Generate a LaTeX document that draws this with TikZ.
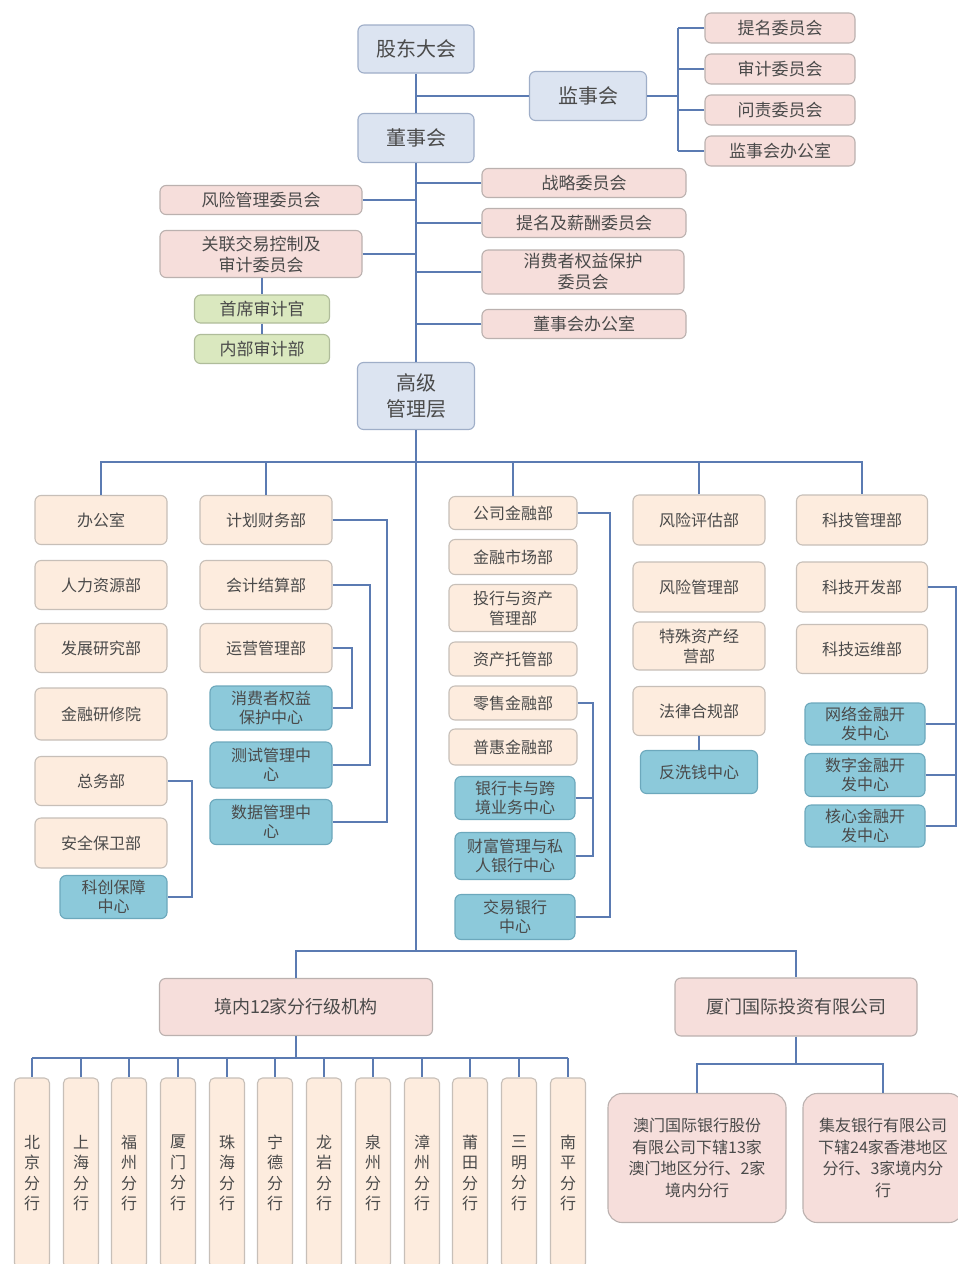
\documentclass[tikz,border=0pt]{standalone}
\usepackage{fontspec}
\setmainfont{Noto Sans CJK SC}
\definecolor{topfill}{HTML}{DCE4F1}
\definecolor{topdraw}{HTML}{9FAEC8}
\definecolor{pinkfill}{HTML}{F6DEDB}
\definecolor{pinkdraw}{HTML}{BBB1AF}
\definecolor{greenfill}{HTML}{DAE8BF}
\definecolor{greendraw}{HTML}{AFBC9A}
\definecolor{deptfill}{HTML}{FDECDE}
\definecolor{deptdraw}{HTML}{C7BFB8}
\definecolor{ctrfill}{HTML}{8CC9DA}
\definecolor{ctrdraw}{HTML}{6CA8BC}
\definecolor{linecol}{HTML}{5B7BB2}
\definecolor{txt}{HTML}{4A4A4A}
\begin{document}
\begin{tikzpicture}[x=1pt,y=-1pt,
  wh/.style 2 args={minimum width=#1,minimum height=#2},
  base/.style={rounded corners=6pt,line width=1.1pt,align=center,inner sep=0pt,text=txt},
  topbox/.style={base,fill=topfill,draw=topdraw,font=\fontsize{20}{26}\selectfont},
  com/.style={base,fill=pinkfill,draw=pinkdraw,font=\fontsize{17}{21}\selectfont},
  grn/.style={base,fill=greenfill,draw=greendraw,font=\fontsize{17}{21}\selectfont},
  dept/.style={base,fill=deptfill,draw=deptdraw,font=\fontsize{16}{20}\selectfont},
  ctr/.style={base,fill=ctrfill,draw=ctrdraw,font=\fontsize{16}{19}\selectfont},
  bigpink/.style={base,fill=pinkfill,draw=pinkdraw,font=\fontsize{18}{22}\selectfont},
  conn/.style={draw=linecol,line width=1.7pt}]
\useasboundingbox (0,0) rectangle (958,1264);
\clip (0,0) rectangle (958,1264);
\fill[white] (0,0) rectangle (958,1264);
% ---------- top ----------
\node[topbox,wh={116}{48}] (gd) at (416,49) {股东大会};
\node[topbox,wh={117}{49}] (jsh) at (588,96) {监事会};
\node[topbox,wh={116}{49}] (dsh) at (416,138) {董事会};
\node[com,wh={150}{30}] (tm) at (780,28) {提名委员会};
\node[com,wh={150}{30}] (sj) at (780,69) {审计委员会};
\node[com,wh={150}{30}] (wz) at (780,110) {问责委员会};
\node[com,wh={150}{30}] (jsb) at (780,151) {监事会办公室};
\node[com,wh={204}{29}] (zl) at (584,183) {战略委员会};
\node[com,wh={204}{29}] (tmxc) at (584,223) {提名及薪酬委员会};
\node[com,wh={202}{44}] (xfz) at (583,272) {消费者权益保护\\委员会};
\node[com,wh={204}{29}] (dsb) at (584,324) {董事会办公室};
\node[com,wh={202}{29}] (fx) at (261,200) {风险管理委员会};
\node[com,wh={202}{47}] (gl) at (261,254) {关联交易控制及\\审计委员会};
\node[grn,wh={135}{28}] (sx) at (262,309) {首席审计官};
\node[grn,wh={135}{29}] (nb) at (262,349) {内部审计部};
\node[topbox,wh={117}{67}] (gj) at (416,396) {高级\\管理层};
% ---------- column 1 ----------
\node[dept,wh={132}{49}] (c1a) at (101,520) {办公室};
\node[dept,wh={132}{49}] (c1b) at (101,585) {人力资源部};
\node[dept,wh={132}{49}] (c1c) at (101,648) {发展研究部};
\node[dept,wh={132}{52}] (c1d) at (101,714) {金融研修院};
\node[dept,wh={132}{49}] (c1e) at (101,781) {总务部};
\node[dept,wh={132}{50}] (c1f) at (101,843) {安全保卫部};
\node[ctr,wh={107}{43}] (kc) at (113.5,897) {科创保障\\中心};
% ---------- column 2 ----------
\node[dept,wh={132}{49}] (c2a) at (266,520) {计划财务部};
\node[dept,wh={132}{49}] (c2b) at (266,585) {会计结算部};
\node[dept,wh={132}{49}] (c2c) at (266,648) {运营管理部};
\node[ctr,wh={122}{44}] (c2d) at (271,708) {消费者权益\\保护中心};
\node[ctr,wh={122}{46}] (c2e) at (271,765) {测试管理中\\心};
\node[ctr,wh={122}{45}] (c2f) at (271,822) {数据管理中\\心};
% ---------- column 3 ----------
\node[dept,wh={128}{33}] (c3a) at (513,513) {公司金融部};
\node[dept,wh={128}{35}] (c3b) at (513,557) {金融市场部};
\node[dept,wh={128}{47}] (c3c) at (513,608) {投行与资产\\管理部};
\node[dept,wh={128}{34}] (c3d) at (513,659) {资产托管部};
\node[dept,wh={128}{34}] (c3e) at (513,703) {零售金融部};
\node[dept,wh={128}{36}] (c3f) at (513,747) {普惠金融部};
\node[ctr,wh={120}{43}] (c3g) at (515,798) {银行卡与跨\\境业务中心};
\node[ctr,wh={120}{47}] (c3h) at (515,856) {财富管理与私\\人银行中心};
\node[ctr,wh={120}{45}] (c3i) at (515,917) {交易银行\\中心};
% ---------- column 4 ----------
\node[dept,wh={132}{50}] (c4a) at (699,520) {风险评估部};
\node[dept,wh={132}{50}] (c4b) at (699,587) {风险管理部};
\node[dept,wh={132}{48}] (c4c) at (699,646) {特殊资产经\\营部};
\node[dept,wh={132}{49}] (c4d) at (699,711) {法律合规部};
\node[ctr,wh={117}{43}] (c4e) at (699,772) {反洗钱中心};
% ---------- column 5 ----------
\node[dept,wh={131}{50}] (c5a) at (862,520) {科技管理部};
\node[dept,wh={131}{50}] (c5b) at (862,587) {科技开发部};
\node[dept,wh={131}{49}] (c5c) at (862,649) {科技运维部};
\node[ctr,wh={120}{42}] (c5d) at (865,724) {网络金融开\\发中心};
\node[ctr,wh={120}{43}] (c5e) at (865,775) {数字金融开\\发中心};
\node[ctr,wh={120}{42}] (c5f) at (865,826) {核心金融开\\发中心};
% ---------- bottom ----------
\node[bigpink,wh={273}{57}] (jn) at (296,1007) {境内12家分行级机构};
\node[bigpink,wh={242}{58}] (xm) at (796,1007) {厦门国际投资有限公司};
\foreach \a/\b [count=\i] in {北/京,上/海,福/州,厦/门,珠/海,宁/德,龙/岩,泉/州,漳/州,莆/田,三/明,南/平}{
  \pgfmathsetmacro\xx{round(32+(\i-1)*48.7)}
  \node[dept,wh={35}{190},font=\fontsize{16}{20.5}\selectfont,rounded corners=5pt] (br\i) at (\xx,1173) {\a\\\b\\分\\行};
}
\node[com,wh={178}{129},font=\fontsize{16}{21.5}\selectfont,rounded corners=14pt] (am) at (697,1158) {澳门国际银行股份\\有限公司下辖13家\\澳门地区分行、2家\\境内分行};
\node[com,wh={160}{129},font=\fontsize{16}{21.5}\selectfont,rounded corners=14pt] (jy) at (883,1158) {集友银行有限公司\\下辖24家香港地区\\分行、3家境内分\\行};
% ---------- connectors ----------
\coordinate (sp) at (416,0);
\coordinate (jb) at (678,0);
\coordinate (s1) at (416,462);
\coordinate (s2) at (416,951);
\coordinate (s3) at (0,1058);
\coordinate (s4) at (0,1064);
\coordinate (b1) at (387,0);
\coordinate (b2) at (370,0);
\coordinate (b3) at (352,0);
\coordinate (b4) at (192,0);
\coordinate (b5) at (610,0);
\coordinate (b6) at (593,0);
\coordinate (b7) at (956,0);
\draw[conn] (gd) -- (dsh);
\draw[conn] (jsh.west) -- (jsh.west -| sp);
\draw[conn] (dsh) -- (gj);
\foreach \n in {zl,tmxc,xfz,dsb} \draw[conn] (\n.west) -- (\n.west -| sp);
\foreach \n in {fx,gl} \draw[conn] (\n.east) -- (\n.east -| sp);
\draw[conn] (gl.south -| sx) -- (sx.north);
\draw[conn] (sx) -- (nb);
\draw[conn] (jsh.east) -- (jsh.east -| jb);
\draw[conn] (tm.west -| jb) -- (jsb.west -| jb);
\foreach \n in {tm,sj,wz,jsb} \draw[conn] (\n.west) -- (\n.west -| jb);
\draw[conn] (gj.south) -- (s2);
\draw[conn] (c1a.north) -- (c1a.north |- s1) -- (c5a.north |- s1) -- (c5a.north);
\foreach \n in {c2a,c3a,c4a} \draw[conn] (\n.north) -- (\n.north |- s1);
\draw[conn] (c2a.east) -- (c2a.east -| b1) -- (c2f.east -| b1) -- (c2f.east);
\draw[conn] (c2b.east) -- (c2b.east -| b2) -- (c2e.east -| b2) -- (c2e.east);
\draw[conn] (c2c.east) -- (c2c.east -| b3) -- (c2d.east -| b3) -- (c2d.east);
\draw[conn] (c1e.east) -- (c1e.east -| b4) -- (kc.east -| b4) -- (kc.east);
\draw[conn] (c3a.east) -- (c3a.east -| b5) -- (c3i.east -| b5) -- (c3i.east);
\draw[conn] (c3e.east) -- (c3e.east -| b6) -- (c3h.east -| b6) -- (c3h.east);
\draw[conn] (c3g.east) -- (c3g.east -| b6);
\draw[conn] (c4d) -- (c4e);
\draw[conn] (c5b.east) -- (c5b.east -| b7) -- (c5f.east -| b7) -- (c5f.east);
\foreach \n in {c5d,c5e} \draw[conn] (\n.east) -- (\n.east -| b7);
\draw[conn] (jn.north) -- (jn.north |- s2) -- (xm.north |- s2) -- (xm.north);
\draw[conn] (jn.south) -- (jn.south |- s3);
\draw[conn] (br1.north |- s3) -- (br12.north |- s3);
\foreach \i in {1,...,12} \draw[conn] (br\i.north |- s3) -- (br\i.north);
\draw[conn] (xm.south) -- (xm.south |- s4);
\draw[conn] (am.north) -- (am.north |- s4) -- (jy.north |- s4) -- (jy.north);
\end{tikzpicture}
\end{document}
